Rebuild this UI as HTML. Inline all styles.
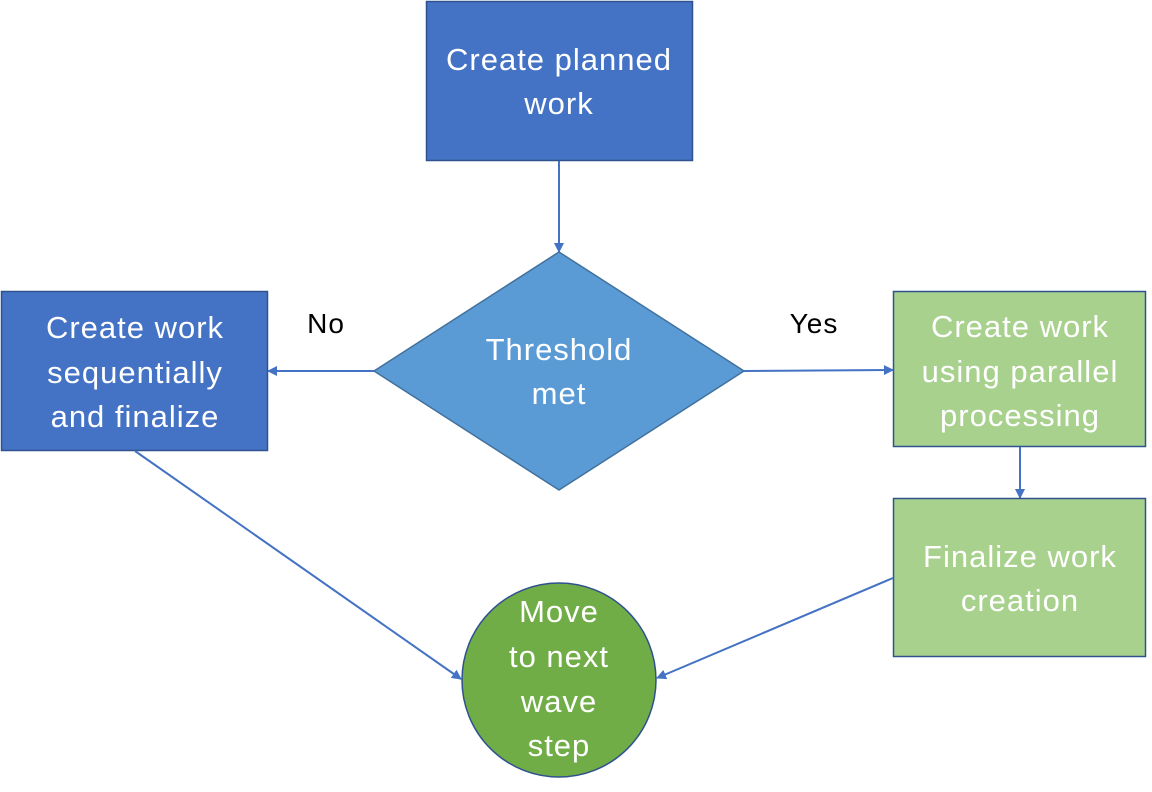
<!DOCTYPE html>
<html><head><meta charset="utf-8"><style>
html,body{margin:0;padding:0;background:#fff;width:1152px;height:792px;overflow:hidden}
svg text{font-family:"Liberation Sans",sans-serif;font-size:31px;letter-spacing:1px;fill:#fff;text-anchor:middle}
</style></head><body>
<svg width="1152" height="792" viewBox="0 0 1152 792" xmlns="http://www.w3.org/2000/svg">
<defs><marker id="a" markerWidth="10" markerHeight="10" refX="9" refY="5" orient="auto" markerUnits="userSpaceOnUse"><path d="M0,0 L10,5 L0,10 Z" fill="#4472C4"/></marker></defs>
<rect x="426.5" y="1.5" width="266" height="159" fill="#4472C4" stroke="#2F528F" stroke-width="1.5"/>
<text x="559" y="70">Create planned</text><text x="559" y="114">work</text>
<line x1="559" y1="161" x2="559" y2="252" stroke="#4472C4" stroke-width="2" marker-end="url(#a)"/>
<polygon points="559,252 744,371 559,490 374,371" fill="#5B9BD5" stroke="#41719C" stroke-width="1.5"/>
<text x="559" y="360">Threshold</text><text x="559" y="404">met</text>
<rect x="1.5" y="291.5" width="266" height="159" fill="#4472C4" stroke="#2F528F" stroke-width="1.5"/>
<text x="135" y="338">Create work</text><text x="135" y="383">sequentially</text><text x="135" y="427">and finalize</text>
<line x1="374" y1="371" x2="268" y2="371" stroke="#4472C4" stroke-width="2" marker-end="url(#a)"/>
<rect x="893.5" y="291.5" width="252" height="155" fill="#A9D18E" stroke="#2F528F" stroke-width="1.5"/>
<text x="1020" y="337">Create work</text><text x="1020" y="382">using parallel</text><text x="1020" y="426">processing</text>
<line x1="744" y1="371" x2="893" y2="370" stroke="#4472C4" stroke-width="2" marker-end="url(#a)"/>
<text x="326" y="333" style="fill:#000;font-size:28px">No</text>
<text x="814" y="333" style="fill:#000;font-size:28px">Yes</text>
<line x1="1020" y1="447" x2="1020" y2="498" stroke="#4472C4" stroke-width="2" marker-end="url(#a)"/>
<rect x="893.5" y="498.5" width="252" height="158" fill="#A9D18E" stroke="#2F528F" stroke-width="1.5"/>
<text x="1020" y="567">Finalize work</text><text x="1020" y="611">creation</text>
<circle cx="559" cy="680" r="97" fill="#70AD47" stroke="#2F528F" stroke-width="1.5"/>
<text x="559" y="622">Move</text><text x="559" y="667">to next</text><text x="559" y="712">wave</text><text x="559" y="756">step</text>
<line x1="135" y1="451" x2="461" y2="679" stroke="#4472C4" stroke-width="2" marker-end="url(#a)"/>
<line x1="893" y1="578" x2="657" y2="678" stroke="#4472C4" stroke-width="2" marker-end="url(#a)"/>
</svg>
</body></html>
